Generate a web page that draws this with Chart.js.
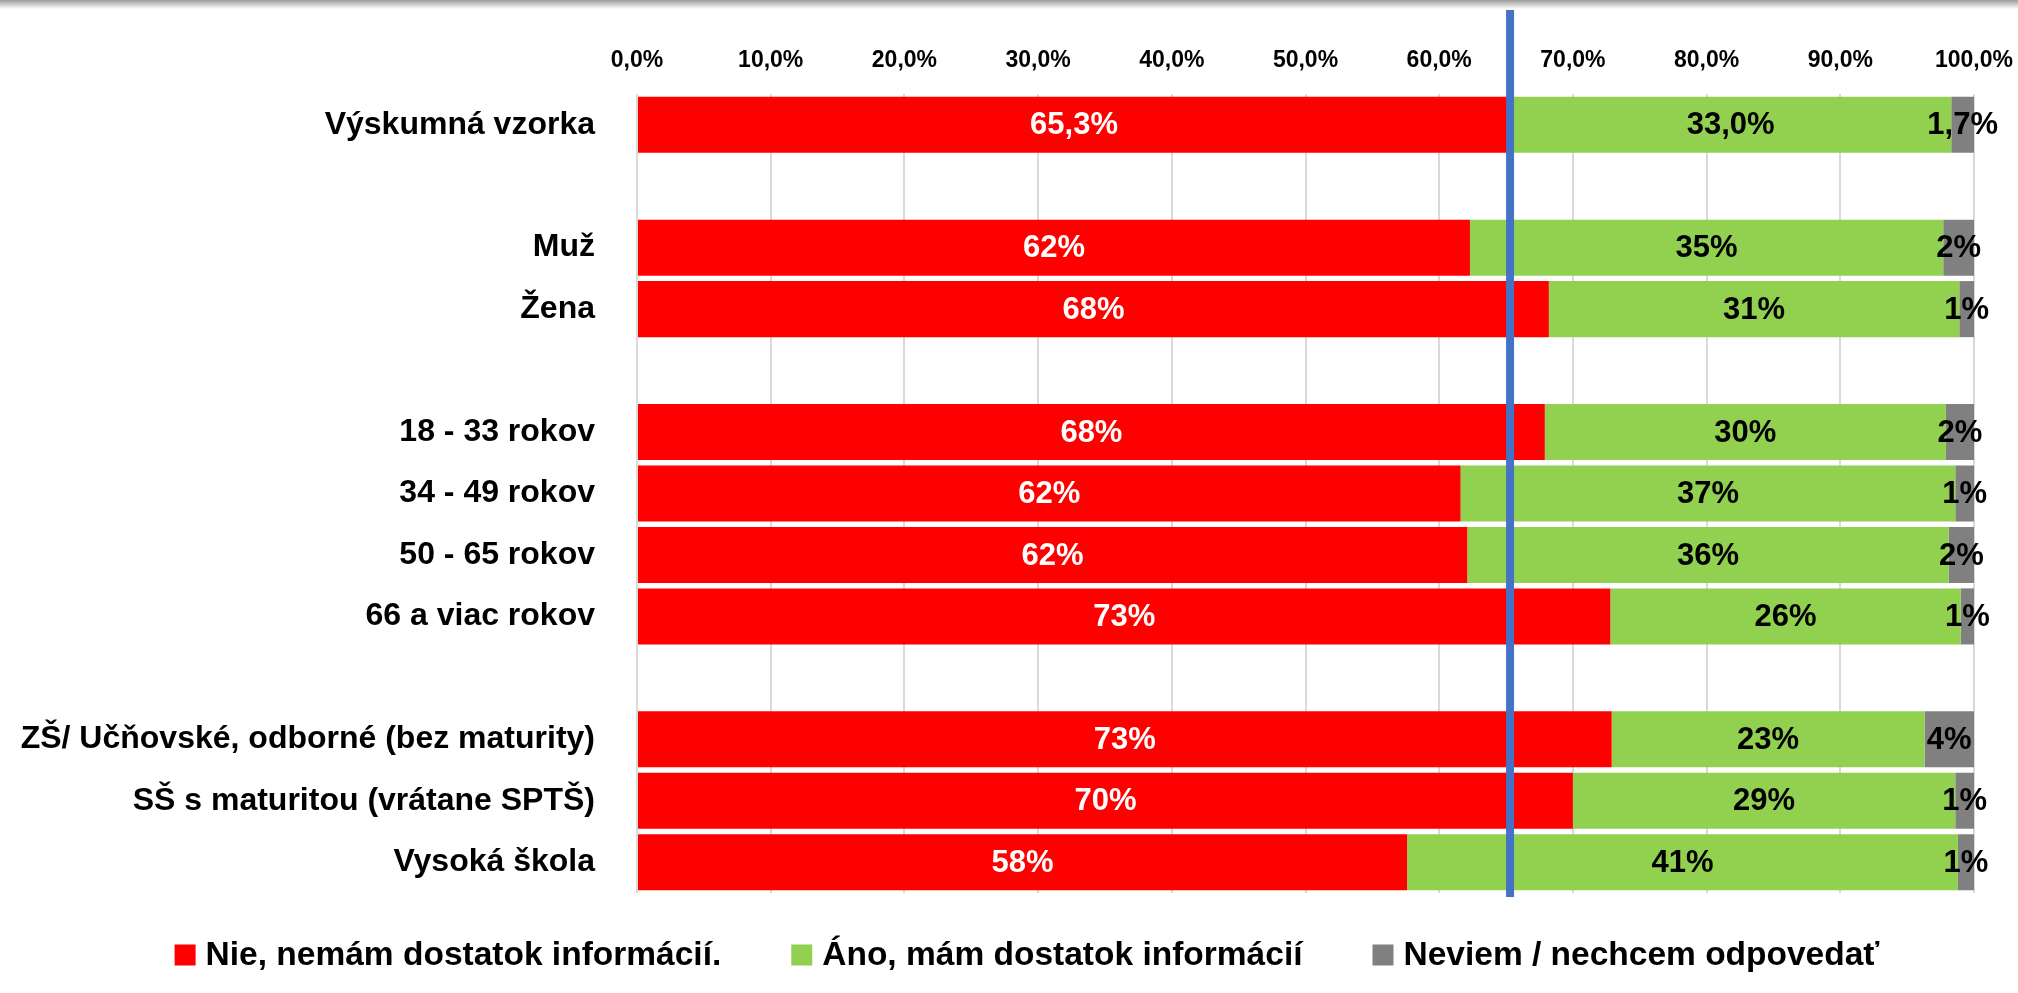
<!DOCTYPE html>
<html><head><meta charset="utf-8">
<script src="https://cdn.jsdelivr.net/npm/chart.js@4.4.1/dist/chart.umd.min.js"></script>
<style>
html,body{margin:0;padding:0;background:#fff;}
#wrap{position:relative;width:2018px;height:993px;overflow:hidden;}
#shade{position:absolute;left:0;top:0;width:2018px;height:9px;background:linear-gradient(#9c9c9c,#c4c4c4 40%,#ffffff);}
canvas{position:absolute;left:0;top:0;}
</style></head><body>
<div id="wrap"><canvas id="c" width="2018" height="993"></canvas><div id="shade"></div></div>
<script>
const categories = ['Výskumná vzorka', '', 'Muž', 'Žena', '', '18 - 33 rokov', '34 - 49 rokov', '50 - 65 rokov', '66 a viac rokov', '', 'ZŠ/ Učňovské, odborné (bez maturity)', 'SŠ s maturitou (vrátane SPTŠ)', 'Vysoká škola'];
const seriesNames = ['Nie, nemám dostatok informácií.', 'Áno, mám dostatok informácií', 'Neviem / nechcem odpovedať'];
const nieValues = [65.3, null, 62.3, 68.2, null, 67.9, 61.6, 62.1, 72.8, null, 72.9, 70.0, 57.6];
const anoValues = [33.0, null, 35.4, 30.7, null, 30.0, 37.0, 36.0, 26.2, null, 23.4, 28.6, 41.2];
const neviemValues = [1.7, null, 2.3, 1.1, null, 2.1, 1.4, 1.9, 1.0, null, 3.7, 1.4, 1.2];
const labelDecimals = [1, 0, 0, 0, 0, 0, 0, 0, 0, 0, 0, 0, 0];
const axisMin = 0, axisMax = 100, axisStep = 10;
const referenceValue = 65.3;

const FONT = "'Liberation Sans', Arial, sans-serif";
const colors = ['#FF0000', '#92D050', '#808080'];

const refLinePlugin = {
  id: 'refLine',
  afterDatasetsDraw(chart) {
    const ctx = chart.ctx;
    const x = chart.scales.x.getPixelForValue(referenceValue);
    ctx.save();
    ctx.strokeStyle = '#4472C4';
    ctx.lineWidth = 8;
    ctx.beginPath();
    ctx.moveTo(x, 10);
    ctx.lineTo(x, 897);
    ctx.stroke();
    ctx.restore();
  }
};

const dataLabelPlugin = {
  id: 'dataLabels',
  afterDatasetsDraw(chart) {
    const ctx = chart.ctx;
    ctx.save();
    ctx.font = 'bold 31px ' + FONT;
    ctx.textAlign = 'center';
    ctx.textBaseline = 'middle';
    chart.data.datasets.forEach((ds, di) => {
      const meta = chart.getDatasetMeta(di);
      meta.data.forEach((el, i) => {
        const v = ds.data[i];
        if (v === null || v === undefined) return;
        const p = el.getProps(['x', 'base', 'y'], true);
        ctx.fillStyle = di === 0 ? '#FFFFFF' : '#000000';
        const txt = v.toFixed(labelDecimals[i]).replace('.', ',') + '%';
        ctx.fillText(txt, (p.x + p.base) / 2, p.y + 1);
      });
    });
    ctx.restore();
  }
};

const legendPlugin = {
  id: 'customLegend',
  afterDraw(chart) {
    const ctx = chart.ctx;
    ctx.save();
    ctx.font = 'bold 33.5px ' + FONT;
    ctx.textBaseline = 'middle';
    ctx.textAlign = 'left';
    const box = 21, gap = 10, itemGap = 70, cy = 955;
    const items = chart.data.datasets.map(ds => ({ text: ds.label, color: ds.backgroundColor, w: ctx.measureText(ds.label).width }));
    let total = items.reduce((s, it) => s + box + gap + it.w, 0) + itemGap * (items.length - 1);
    let x = chart.width / 2 + 18 - total / 2;
    items.forEach(it => {
      ctx.fillStyle = it.color;
      ctx.fillRect(x, cy - box / 2, box, box);
      ctx.fillStyle = '#000';
      ctx.fillText(it.text, x + box + gap, cy + 1);
      x += box + gap + it.w + itemGap;
    });
    ctx.restore();
  }
};

new Chart(document.getElementById('c'), {
  type: 'bar',
  data: {
    labels: categories,
    datasets: [
      { label: seriesNames[0], data: nieValues, backgroundColor: colors[0] },
      { label: seriesNames[1], data: anoValues, backgroundColor: colors[1] },
      { label: seriesNames[2], data: neviemValues, backgroundColor: colors[2] }
    ]
  },
  options: {
    indexAxis: 'y',
    responsive: false,
    animation: false,
    devicePixelRatio: 1,
    layout: { padding: { left: 0, right: 44, top: 0, bottom: 100 } },
    datasets: { bar: { barPercentage: 0.912, categoryPercentage: 1.0, borderWidth: 0 } },
    plugins: { legend: { display: false }, tooltip: { enabled: false } },
    scales: {
      x: {
        position: 'top',
        stacked: true,
        min: axisMin, max: axisMax,
        ticks: {
          stepSize: axisStep,
          color: '#000',
          padding: 20,
          font: { family: FONT, size: 23, weight: 'bold' },
          callback: v => v.toFixed(1).replace('.', ',') + '%'
        },
        grid: { color: '#D9D9D9', lineWidth: 2, drawTicks: false },
        border: { display: false },
        afterFit: s => { s.height = 94; s.paddingRight = 0; s.paddingLeft = 0; }
      },
      y: {
        stacked: true,
        ticks: {
          color: '#000',
          padding: 42,
          autoSkip: false,
          font: { family: FONT, size: 32, weight: 'bold' }
        },
        grid: { display: false, drawTicks: false },
        border: { display: false },
        afterFit: s => { s.width = 637; }
      }
    }
  },
  plugins: [refLinePlugin, dataLabelPlugin, legendPlugin]
});
</script>
</body></html>
